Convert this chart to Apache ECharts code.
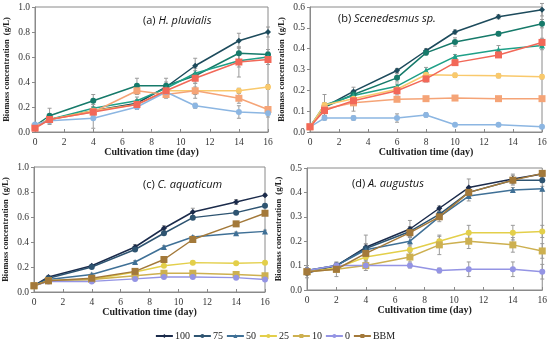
<!DOCTYPE html>
<html><head><meta charset="utf-8">
<script src="https://cdn.jsdelivr.net/npm/echarts@6/dist/echarts.min.js"></script>
<style>html,body{margin:0;padding:0;background:#fff}#c{width:550px;height:341px}</style>
</head><body><div id="c"></div>
<script>
// ---- data ----
const seriesNames = ['100','75','50','25','10','0','BBM'];

const daysA = [0,1,4,7,9,11,14,16];
const daysB = [0,1,3,6,8,10,13,16];
const daysC = [0,1,4,7,9,11,14,16];
const daysD = [0,2,4,7,9,11,14,16];

// (a) H. pluvialis
const a100 = [0.04,0.10,0.17,0.23,0.36,0.53,0.73,0.80];
const a75  = [0.05,0.13,0.25,0.37,0.37,0.45,0.63,0.62];
const a50  = [0.05,0.10,0.19,0.25,0.35,0.47,0.57,0.60];
const a25  = [0.05,0.10,0.17,0.22,0.33,0.33,0.33,0.36];
const a10  = [0.04,0.10,0.16,0.33,0.30,0.33,0.27,0.18];
const a0   = [0.06,0.09,0.11,0.20,0.32,0.21,0.16,0.15];
const aBBM = [0.03,0.10,0.16,0.22,0.33,0.43,0.56,0.58];
const a100e = [0.01,0.02,0.03,0.03,0.04,0.06,0.06,0.04];
const a75e  = [0.01,0.06,0.05,0.06,0.06,0.04,0.05,0.04];
const a50e  = [0.01,0.02,0.03,0.03,0.03,0.04,0.05,0.04];
const a25e  = [0.01,0.02,0.03,0.03,0.03,0.03,0.02,0.02];
const a10e  = [0.01,0.02,0.03,0.03,0.03,0.06,0.04,0.02];
const a0e   = [0.01,0.03,0.08,0.02,0.02,0.02,0.05,0.03];
const aBBMe = [0.01,0.02,0.03,0.03,0.03,0.04,0.12,0.04];

// (b) Scenedesmus sp.
const b100 = [0.025,0.12,0.195,0.295,0.39,0.48,0.553,0.587];
const b75  = [0.025,0.12,0.18,0.26,0.38,0.432,0.472,0.52];
const b50  = [0.025,0.13,0.175,0.22,0.295,0.362,0.395,0.415];
const b25  = [0.025,0.13,0.16,0.205,0.275,0.272,0.27,0.265];
const b10  = [0.025,0.11,0.14,0.157,0.16,0.163,0.16,0.16];
const b0   = [0.025,0.067,0.067,0.067,0.082,0.035,0.035,0.025];
const bBBM = [0.025,0.103,0.15,0.198,0.255,0.333,0.37,0.43];
const b100e = [0,0.01,0.02,0.01,0.01,0.01,0.01,0.03];
const b75e  = [0,0.01,0.02,0.02,0.01,0.02,0.01,0.02];
const b50e  = [0,0.01,0.01,0.01,0.015,0.01,0.02,0.02];
const b25e  = [0,0.05,0.01,0.01,0.01,0.01,0.01,0.01];
const b10e  = [0,0.03,0.04,0.01,0.01,0.01,0.01,0.01];
const b0e   = [0,0.01,0.01,0.02,0.01,0.005,0.005,0.005];
const bBBMe = [0,0.01,0.02,0.02,0.015,0.01,0.01,0.02];

// (c) C. aquaticum
const c100 = [0.05,0.12,0.21,0.36,0.51,0.64,0.72,0.775];
const c75  = [0.05,0.11,0.20,0.34,0.47,0.595,0.635,0.69];
const c50  = [0.05,0.10,0.14,0.24,0.36,0.44,0.47,0.485];
const c25  = [0.05,0.09,0.10,0.16,0.21,0.235,0.23,0.235];
const c10  = [0.05,0.09,0.10,0.13,0.15,0.15,0.14,0.13];
const c0   = [0.05,0.085,0.085,0.105,0.12,0.12,0.115,0.10];
const cBBM = [0.05,0.09,0.11,0.165,0.26,0.42,0.545,0.63];
const c100e = [0.01,0.01,0.01,0.02,0.02,0.03,0.02,0.01];
const c75e  = [0.01,0.01,0.01,0.01,0.01,0.01,0.01,0.01];
const c50e  = [0.01,0.01,0.01,0.01,0.01,0.01,0.01,0.01];
const c25e  = [0.01,0.01,0.01,0.01,0.01,0.01,0.01,0.01];
const c10e  = [0.01,0.01,0.01,0.01,0.01,0.01,0.01,0.01];
const c0e   = [0.01,0.01,0.01,0.01,0.01,0.01,0.01,0.01];
const cBBMe = [0.01,0.01,0.01,0.01,0.01,0.01,0.02,0.01];

// (d) A. augustus
const d100 = [0.07,0.10,0.175,0.25,0.335,0.42,0.455,0.475];
const d75  = [0.08,0.10,0.17,0.24,0.31,0.40,0.45,0.45];
const d50  = [0.08,0.10,0.165,0.20,0.30,0.385,0.41,0.415];
const d25  = [0.075,0.09,0.135,0.165,0.20,0.235,0.235,0.24];
const d10  = [0.075,0.085,0.10,0.135,0.185,0.20,0.185,0.16];
const d0   = [0.08,0.10,0.10,0.10,0.08,0.085,0.085,0.075];
const dBBM = [0.075,0.085,0.15,0.235,0.30,0.40,0.45,0.478];
const d100e = [0.02,0.01,0.05,0.035,0.01,0.035,0.02,0.01];
const d75e  = [0.02,0.01,0.02,0.02,0.01,0.02,0.01,0.01];
const d50e  = [0.01,0.01,0.02,0.02,0.01,0.02,0.01,0.01];
const d25e  = [0.01,0.01,0.02,0.02,0.02,0.03,0.03,0.025];
const d10e  = [0.01,0.03,0.02,0.02,0.04,0.03,0.03,0.03];
const d0e   = [0.01,0.01,0.01,0.01,0.01,0.03,0.03,0.03];
const dBBMe = [0.01,0.01,0.02,0.02,0.02,0.02,0.02,0.01];

// ---- styling ----
const symbols = ['diamond','circle','triangle','circle','rect','circle','rect'];
const symSizes = [6,6,6,6,7,6,7];
const colorsAB = ['#1d4b5c','#167a6a','#1fa088','#f9c96c','#f5a477','#8cb6e2','#f26858'];
const colorsCD = ['#1b2b4b','#2e5471','#3f7096','#e3cf4a','#cdb050','#9494e4','#a3793a'];

const panels = [
  {days: daysC, vals:[c100,c75,c50,c25,c10,c0,cBBM], errs:[c100e,c75e,c50e,c25e,c10e,c0e,cBBMe], colors: colorsCD},
  {days: daysD, vals:[d100,d75,d50,d25,d10,d0,dBBM], errs:[d100e,d75e,d50e,d25e,d10e,d0e,dBBMe], colors: colorsCD},
  {days: daysA, vals:[a100,a75,a50,a25,a10,a0,aBBM], errs:[a100e,a75e,a50e,a25e,a10e,a0e,aBBMe], colors: colorsAB},
  {days: daysB, vals:[b100,b75,b50,b25,b10,b0,bBBM], errs:[b100e,b75e,b50e,b25e,b10e,b0e,bBBMe], colors: colorsAB},
];
const panelGrid = [2,3,0,1];

const grids = [
  {left:35, top:7, width:233, height:125},
  {left:310, top:7, width:232, height:125},
  {left:33, top:167, width:232, height:125},
  {left:307, top:168, width:236, height:122},
];
const yMax = [1.0, 0.6, 1.0, 0.5];
const yInt = [0.2, 0.1, 0.2, 0.1];

const serif = 'Liberation Serif';
const xAxes = grids.map((g,i)=>({
  type:'value', gridIndex:i, min:0, max:16, interval:2,
  name:'Cultivation time (day)', nameLocation:'middle', nameGap:15,
  nameTextStyle:{fontFamily:serif, fontWeight:'bold', fontSize:10, color:'#222'},
  axisLine:{lineStyle:{color:'#8a8a8a', width:1}},
  axisTick:{inside:true, length:3, lineStyle:{color:'#8a8a8a'}},
  axisLabel:{fontFamily:serif, fontSize:9.5, color:'#333', margin:5},
  splitLine:{show:false}
}));
const yAxes = grids.map((g,i)=>({
  type:'value', gridIndex:i, min:0, max:yMax[i], interval:yInt[i],
  name:'Biomass concentration  (g/L)', nameLocation:'middle', nameGap:24,
  nameTextStyle:{fontFamily:serif, fontWeight:'bold', fontSize:8.5, color:'#222'},
  axisLine:{show:true, lineStyle:{color:'#8a8a8a', width:1}},
  axisTick:{show:true, inside:false, length:3, lineStyle:{color:'#8a8a8a'}},
  axisLabel:{fontFamily:serif, fontSize:9.5, color:'#333', margin:5, formatter:v=>v.toFixed(1)},
  splitLine:{show:false}
}));

const series = [];
panels.forEach((p, pi)=>{
  const gi = panelGrid[pi];
  p.vals.forEach((vals, si)=>{
    series.push({
      type:'custom', name:'err', xAxisIndex:gi, yAxisIndex:gi, silent:true, z:1,
      data: p.days.map((d,k)=>[d, vals[k], p.errs[si][k]]),
      renderItem:(params, api)=>{
        const x = api.value(0), y = api.value(1), e = api.value(2);
        const top = api.coord([x, y+e]), bot = api.coord([x, y-e]);
        const w = 2;
        return {type:'group', children:[
          {type:'line', shape:{x1:top[0], y1:top[1], x2:bot[0], y2:bot[1]}, style:{stroke:'#9a9a9a', lineWidth:1}},
          {type:'line', shape:{x1:top[0]-w, y1:top[1], x2:top[0]+w, y2:top[1]}, style:{stroke:'#9a9a9a', lineWidth:1}},
          {type:'line', shape:{x1:bot[0]-w, y1:bot[1], x2:bot[0]+w, y2:bot[1]}, style:{stroke:'#9a9a9a', lineWidth:1}}
        ]};
      }
    });
  });
  p.vals.forEach((vals, si)=>{
    series.push({
      type:'line', name: seriesNames[si], xAxisIndex:gi, yAxisIndex:gi, z:3,
      data: p.days.map((d,k)=>[d, vals[k]]),
      symbol: symbols[si], symbolSize: symSizes[si], showAllSymbol:true,
      lineStyle:{width:1.5, color:p.colors[si]},
      itemStyle:{color:p.colors[si]},
      animation:false
    });
  });
});

const titleText = [
  {left:138, top:10, n:'(a) ', i:'H. pluvialis'},
  {left:333, top:8, n:'(b) ', i:'Scenedesmus sp.'},
  {left:138, top:174, n:'(c) ', i:'C. aquaticum'},
  {left:347, top:173, n:'(d) ', i:'A. augustus'},
];
const titles = titleText.map(t=>({
  left:t.left, top:t.top, text:'{n|'+t.n+'}{i|'+t.i+'}',
  textStyle:{fontWeight:'normal', rich:{
    n:{fontFamily:'Open Sans', fontSize:11, fontWeight:'normal', color:'#111'},
    i:{fontFamily:'Open Sans', fontSize:11, fontWeight:'normal', fontStyle:'italic', color:'#111'}
  }}
}));

const chart = echarts.init(document.getElementById('c'), null, {renderer:'canvas'});
chart.setOption({
  animation:false,
  backgroundColor:'#fff',
  title: titles,
  grid: grids.map(g=>Object.assign({show:true, borderColor:'#8a8a8a', borderWidth:1, containLabel:false}, g)),
  xAxis: xAxes,
  yAxis: yAxes,
  legend:{
    data: seriesNames, top:326, left:'center',
    itemWidth:17, itemHeight:5, itemGap:3,
    textStyle:{fontFamily:serif, fontSize:10, color:'#222', padding:[0,0,0,-3]}
  },
  series
});
</script></body></html>
